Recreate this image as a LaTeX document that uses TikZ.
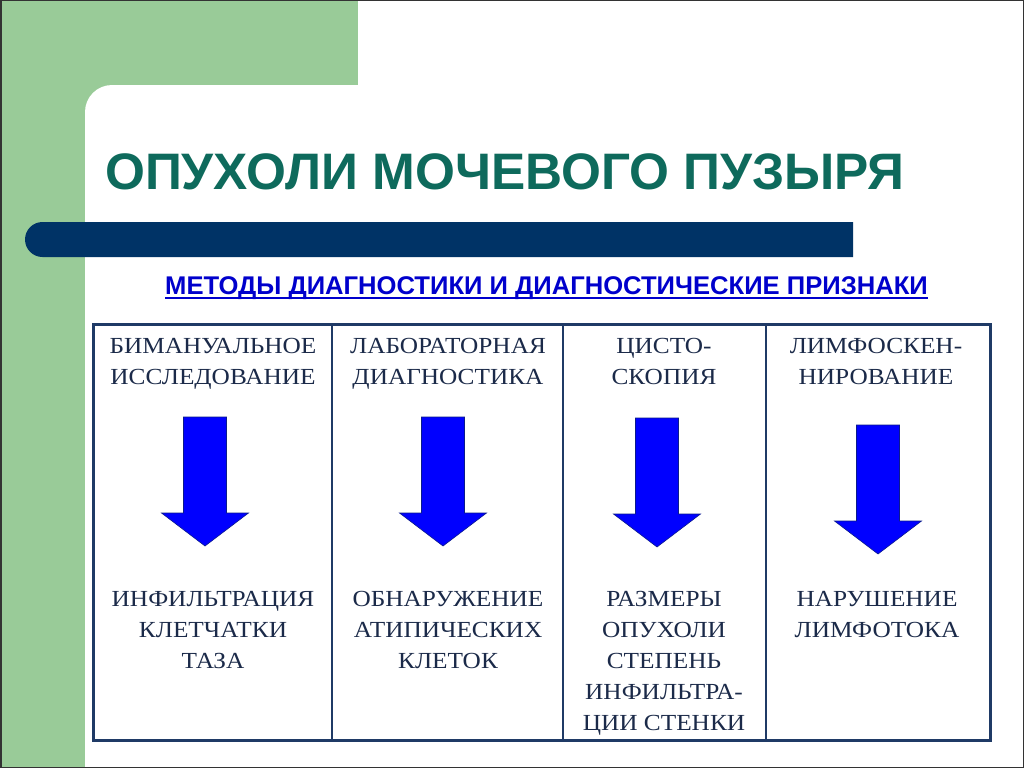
\documentclass[tikz,border=0pt]{standalone}
\usepackage{fontspec}
\setmainfont{Liberation Serif}
\newfontfamily\arialfont{Liberation Sans}
\newfontfamily\cellfont[FakeStretch=1.1]{Liberation Serif}
\definecolor{bggreen}{HTML}{99CB98}
\definecolor{barnavy}{HTML}{003366}
\definecolor{titleteal}{HTML}{0E6A5C}
\definecolor{subblue}{HTML}{0000CC}
\definecolor{tabline}{HTML}{1F3A66}
\definecolor{celltext}{HTML}{1B2A49}
\definecolor{arrowblue}{HTML}{0000FF}
\definecolor{arrowedge}{HTML}{0A1A8C}
\tikzset{
  celltxt/.style={font=\cellfont\fontsize{23}{31}\selectfont, text=celltext, align=center, inner sep=0pt, anchor=base},
  downarrow/.pic={\filldraw[fill=arrowblue, draw=arrowedge, line width=0.6pt]
     (-21.5,0) -- (21.5,0) -- (21.5,96) -- (43.5,96) -- (0,129) -- (-43.5,96) -- (-21.5,96) -- cycle;}
}
\begin{document}
\begin{tikzpicture}[x=1pt,y=-1pt]
\useasboundingbox (0,0) rectangle (1024,768);
\fill[white] (0,0) rectangle (1024,768);
% green background
\fill[bggreen] (0,0) rectangle (358,130);
\fill[bggreen] (0,0) rectangle (85,768);
\fill[white, rounded corners=27pt] (85,85) rectangle (1100,850);
% navy bar
\fill[barnavy] (853,222) -- (42.5,222) arc[start angle=270, end angle=90, radius=17.5] -- (853,257) -- cycle;
% title
\node[font=\arialfont\bfseries\fontsize{51.3}{56}\selectfont, text=titleteal, anchor=base west, inner sep=0pt] (title) at (105,189) {ОПУХОЛИ МОЧЕВОГО ПУЗЫРЯ};
% subtitle
\node[font=\arialfont\bfseries\fontsize{25.6}{29}\selectfont, text=subblue, anchor=base, inner sep=0pt] (sub) at (546.5,294) {МЕТОДЫ ДИАГНОСТИКИ И ДИАГНОСТИЧЕСКИЕ ПРИЗНАКИ};
\draw[subblue, line width=2pt] ([yshift=-4pt]sub.base west) -- ([yshift=-4pt]sub.base east);
% table
\draw[tabline, line width=2pt] (332,324) -- (332,740);
\draw[tabline, line width=2pt] (563,324) -- (563,740);
\draw[tabline, line width=2pt] (766,324) -- (766,740);
\draw[tabline, line width=3pt] (93,324) rectangle (990,740);
% headers (anchor = baseline of last line)
\node[celltxt] (h1) at (213,384) {БИМАНУАЛЬНОЕ\\ИССЛЕДОВАНИЕ};
\node[celltxt] (h2) at (448,384) {ЛАБОРАТОРНАЯ\\ДИАГНОСТИКА};
\node[celltxt] (h3) at (664,384) {ЦИСТО-\\СКОПИЯ};
\node[celltxt] (h4) at (876,384) {ЛИМФОСКЕН-\\НИРОВАНИЕ};
% arrows
\pic at (205,417) {downarrow};
\pic at (443,417) {downarrow};
\pic at (657,418) {downarrow};
\pic at (878,425) {downarrow};
% results
\node[celltxt] (r1) at (213,668) {ИНФИЛЬТРАЦИЯ\\КЛЕТЧАТКИ\\ТАЗА};
\node[celltxt] (r2) at (448,668) {ОБНАРУЖЕНИЕ\\АТИПИЧЕСКИХ\\КЛЕТОК};
\node[celltxt] (r3) at (664,730) {РАЗМЕРЫ\\ОПУХОЛИ\\СТЕПЕНЬ\\ИНФИЛЬТРА-\\ЦИИ СТЕНКИ};
\node[celltxt] (r4) at (877,637) {НАРУШЕНИЕ\\ЛИМФОТОКА};
% outer frame
\draw[black!80, line width=1.5pt] (0.75,0.75) rectangle (1023.25,767.25);
\end{tikzpicture}
\end{document}
